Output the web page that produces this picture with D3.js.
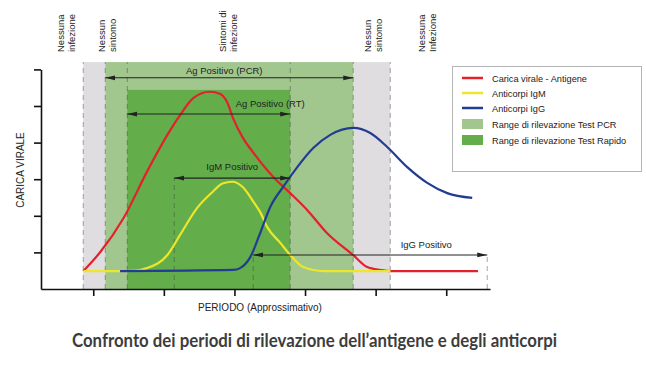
<!DOCTYPE html>
<html>
<head>
<meta charset="utf-8">
<script src="https://cdn.jsdelivr.net/npm/d3@7"></script>
<style>
  html, body { margin: 0; padding: 0; background: #fff; }
  svg { display: block; }
  text { font-family: "Liberation Sans", Arial, sans-serif; }
  text.title { font-family: Lato, "Open Sans", sans-serif; font-weight: bold; }
</style>
</head>
<body>
<svg id="chart" width="646" height="379"></svg>
<script>
// ---------------- DATA ----------------
const xDomain = [2.6, 66.2];
const yDomain = [0, 6];
const xTicks = [10, 20, 30, 40, 50, 60];
const yTicks = [1, 2, 3, 4, 5, 6];

// Carica virale - Antigene
const caricaVirale = [
  [8.6, 0.49], [11.0, 1.01], [14.3, 1.94], [17.6, 3.20], [20.5, 4.21], [22.3, 4.75],
  [24.2, 5.22], [26.5, 5.39], [28.0, 5.33], [29.0, 5.09], [29.8, 4.67], [31.2, 4.13],
  [32.7, 3.72], [35.5, 3.06], [37.9, 2.62], [40.3, 2.16], [43.1, 1.53], [46.8, 0.93],
  [48.8, 0.60], [50.7, 0.52], [52.1, 0.49], [64.5, 0.49]
];
// Anticorpi IgM
const anticorpiIgM = [
  [8.6, 0.49], [13.8, 0.49], [16.0, 0.50], [17.6, 0.57], [20.5, 0.93], [22.3, 1.48],
  [24.7, 2.21], [26.9, 2.65], [28.3, 2.88], [29.7, 2.93], [31.2, 2.78], [32.7, 2.38],
  [33.65, 2.10], [34.65, 1.69], [36.5, 1.26], [37.9, 0.93], [39.75, 0.60], [42.6, 0.49],
  [52.1, 0.49]
];
// Anticorpi IgG
const anticorpiIgG = [
  [13.8, 0.49], [29.8, 0.52], [30.8, 0.57], [32.24, 0.87], [33.65, 1.53], [35.07, 2.24],
  [36.9, 2.79], [38.9, 3.33], [41.16, 3.85], [43.57, 4.21], [46.83, 4.40], [49.24, 4.26],
  [51.64, 3.88], [54.48, 3.33], [57.31, 2.90], [60.14, 2.62], [63.68, 2.49]
];

const greyBands = [[8.58, 11.70], [46.83, 52.07]];
const pcrRange = [11.70, 46.83];
const pcrTop = 6.2;
const rapidRange = [14.82, 37.90];
const rapidTop = 5.44;

const dashedLines = [
  [8.58, 0, 6.2], [11.70, 0, 6.2], [14.82, 0, 6.2], [37.90, 0, 6.2],
  [46.83, 0, 6.2], [52.07, 0, 6.2], [21.47, 0, 3.03], [32.66, 0, 0.93], [65.81, 0, 0.93]
];

const arrowLabels = ["Ag Positivo (PCR)", "Ag Positivo (RT)", "IgM Positivo", "IgG Positivo"];
const arrowFrom = [11.70, 14.82, 21.47, 32.66];
const arrowTo = [46.83, 37.90, 37.90, 65.81];
const arrowY = [5.77, 4.78, 3.03, 0.93];
const arrowLabelX = [28.56, 35.07, 29.69, 57.17];
const arrowLabelY = [5.87, 4.97, 3.25, 1.12];

const phaseLabels = [
  ["Nessuna", "infezione"], ["Nessun", "sintomo"], ["Sintomi di", "infezione"],
  ["Nessun", "sintomo"], ["Nessuna", "Infezione"]
];
const phaseX = [6.18, 11.98, 29.05, 49.66, 57.24];

const legendLabels = ["Carica virale - Antigene", "Anticorpi IgM", "Anticorpi IgG",
  "Range di rilevazione Test PCR", "Range di rilevazione Test Rapido"];

const yLabel = "CARICA VIRALE";
const xLabel = "PERIODO (Approssimativo)";
const title = "Confronto dei periodi di rilevazione dell\u2019antigene e degli anticorpi";

// ---------------- STYLE ----------------
const C = {
  red: "#e3202b", yellow: "#ece62c", blue: "#223c94",
  grey: "#dfdddf", pcr: "#a1c78f", rapid: "#63ad4b"
};

const svg = d3.select("#chart");
const x = d3.scaleLinear().domain(xDomain).range([41, 490]);
const y = d3.scaleLinear().domain(yDomain).range([289, 69.4]);

const defs = svg.append("defs");
defs.append("marker")
  .attr("id", "ah").attr("viewBox", "0 0 10 6").attr("refX", 10).attr("refY", 3)
  .attr("markerWidth", 10).attr("markerHeight", 6).attr("markerUnits", "userSpaceOnUse")
  .attr("orient", "auto-start-reverse")
  .append("path").attr("d", "M0,0.6 L10,3 L0,5.4 Z").attr("fill", "#222");

// bands
const gB = svg.append("g");
gB.selectAll("rect.grey").data(greyBands).join("rect")
  .attr("x", d => x(d[0])).attr("width", d => x(d[1]) - x(d[0]))
  .attr("y", y(pcrTop)).attr("height", y(0) - y(pcrTop)).attr("fill", C.grey);
gB.append("rect")
  .attr("x", x(pcrRange[0])).attr("width", x(pcrRange[1]) - x(pcrRange[0]))
  .attr("y", y(pcrTop)).attr("height", y(0) - y(pcrTop)).attr("fill", C.pcr);
gB.append("rect")
  .attr("x", x(rapidRange[0])).attr("width", x(rapidRange[1]) - x(rapidRange[0]))
  .attr("y", y(rapidTop)).attr("height", y(0) - y(rapidTop)).attr("fill", C.rapid);

// dashed lines
svg.append("g").selectAll("line").data(dashedLines).join("line")
  .attr("x1", d => x(d[0])).attr("x2", d => x(d[0]))
  .attr("y1", d => y(d[1])).attr("y2", d => y(d[2]))
  .attr("stroke", "#3c3c3c").attr("stroke-opacity", 0.45)
  .attr("stroke-width", 1).attr("stroke-dasharray", "5,4");

// axes
const xAxis = svg.append("g").attr("transform", `translate(0,${y(0)})`)
  .call(d3.axisBottom(x).tickValues(xTicks).tickFormat("").tickSize(7).tickSizeOuter(0));
const yAxis = svg.append("g").attr("transform", `translate(${x(xDomain[0])},0)`)
  .call(d3.axisLeft(y).tickValues(yTicks).tickFormat("").tickSize(7).tickSizeOuter(0));
[xAxis, yAxis].forEach(a => {
  a.select(".domain").attr("stroke", "#111").attr("stroke-width", 1.6);
  a.selectAll(".tick line").attr("stroke", "#111").attr("stroke-width", 1.6);
});

// curves
const line = d3.line().x(d => x(d[0])).y(d => y(d[1])).curve(d3.curveMonotoneX);
const curves = [[caricaVirale, C.red], [anticorpiIgM, C.yellow], [anticorpiIgG, C.blue]];
svg.append("g").selectAll("path").data(curves).join("path")
  .attr("d", d => line(d[0])).attr("fill", "none")
  .attr("stroke", d => d[1]).attr("stroke-width", 2.2)
  .attr("stroke-linejoin", "round").attr("stroke-linecap", "butt");

// arrows
const gA = svg.append("g");
arrowLabels.forEach((lab, i) => {
  gA.append("line")
    .attr("x1", x(arrowFrom[i])).attr("x2", x(arrowTo[i]))
    .attr("y1", y(arrowY[i])).attr("y2", y(arrowY[i]))
    .attr("stroke", "#222").attr("stroke-width", 1.1)
    .attr("marker-start", "url(#ah)").attr("marker-end", "url(#ah)");
  gA.append("text").attr("x", x(arrowLabelX[i])).attr("y", y(arrowLabelY[i]))
    .attr("text-anchor", "middle").attr("font-size", 9.5).attr("fill", "#222").text(lab);
});

// phase labels
const gP = svg.append("g");
phaseLabels.forEach((lines, i) => {
  const t = gP.append("text")
    .attr("transform", `translate(${x(phaseX[i]) - 2},52) rotate(-90)`)
    .attr("font-size", 9.5).attr("fill", "#222");
  lines.forEach((l, j) => t.append("tspan").attr("x", 0).attr("y", j * 11).text(l));
});

// axis labels
svg.append("text").attr("transform", `translate(24,170) rotate(-90)`)
  .attr("text-anchor", "middle").attr("font-size", 10).attr("fill", "#222").text(yLabel);
svg.append("text").attr("x", 260).attr("y", 311)
  .attr("text-anchor", "middle").attr("font-size", 10).attr("fill", "#222").text(xLabel);

// legend
const gL = svg.append("g");
gL.append("rect").attr("x", 452.5).attr("y", 66.5).attr("width", 189).attr("height", 105)
  .attr("fill", "#fff").attr("stroke", "#b5b5b5").attr("stroke-width", 1);
const legRowY = [78, 93, 108, 124, 140];
const legSw = [C.red, C.yellow, C.blue, C.pcr, C.rapid];
legendLabels.forEach((lab, i) => {
  if (i < 3) {
    gL.append("line").attr("x1", 462).attr("x2", 483).attr("y1", legRowY[i]).attr("y2", legRowY[i])
      .attr("stroke", legSw[i]).attr("stroke-width", 2.5);
  } else {
    gL.append("rect").attr("x", 462).attr("y", legRowY[i] - 5).attr("width", 21).attr("height", 10)
      .attr("fill", legSw[i]);
  }
  gL.append("text").attr("x", 492).attr("y", legRowY[i] + 3.5)
    .attr("font-size", 9.2).attr("fill", "#222").text(lab);
});

// title
const tt = svg.append("text").attr("class", "title").attr("x", 72).attr("y", 347)
  .attr("font-size", 18).attr("fill", "#3d3d3d").text(title);
const w = tt.node().getComputedTextLength();
if (Math.abs(w - 485) > 3) tt.attr("textLength", 485).attr("lengthAdjust", "spacingAndGlyphs");
</script>
</body>
</html>
